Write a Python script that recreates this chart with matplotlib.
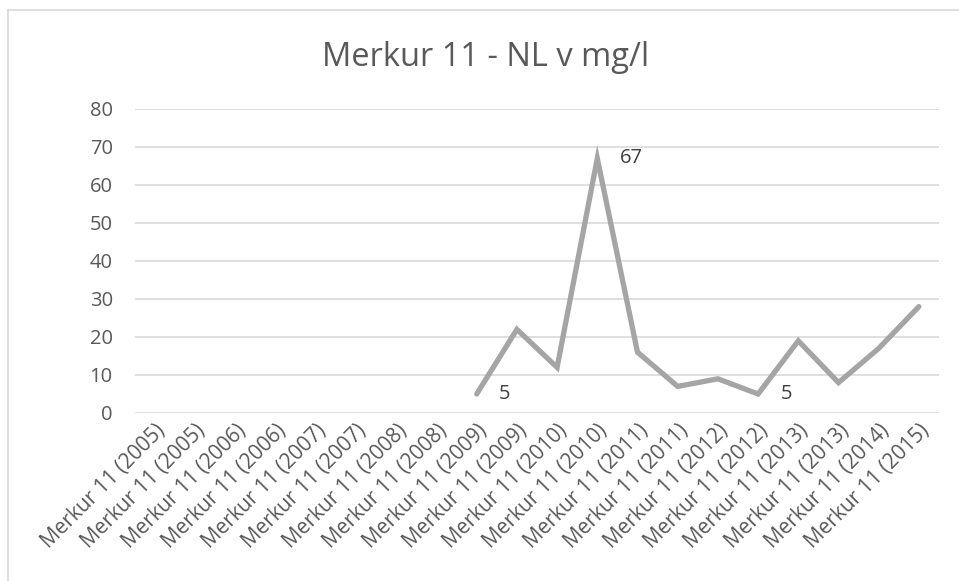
import matplotlib
matplotlib.use("Agg")
import matplotlib.pyplot as plt
from matplotlib.lines import Line2D
import numpy as np

categories = [
    "Merkur 11 (2005)", "Merkur 11 (2005)", "Merkur 11 (2006)", "Merkur 11 (2006)",
    "Merkur 11 (2007)", "Merkur 11 (2007)", "Merkur 11 (2008)", "Merkur 11 (2008)",
    "Merkur 11 (2009)", "Merkur 11 (2009)", "Merkur 11 (2010)", "Merkur 11 (2010)",
    "Merkur 11 (2011)", "Merkur 11 (2011)", "Merkur 11 (2012)", "Merkur 11 (2012)",
    "Merkur 11 (2013)", "Merkur 11 (2013)", "Merkur 11 (2014)", "Merkur 11 (2015)",
]
values = [None, None, None, None, None, None, None, None,
          5, 22, 12, 67, 16, 7, 9, 5, 19, 8, 17, 28]
labeled_idx = [8, 11, 15]
yticks = [0, 10, 20, 30, 40, 50, 60, 70, 80]
title = "Merkur 11 - NL v mg/l"

plt.rcParams['font.family'] = ['Open Sans', 'DejaVu Sans']

W, H = 959, 581
fig = plt.figure(figsize=(W / 100, H / 100), dpi=100)
fig.patch.set_facecolor("white")

left, right, top, bottom = 135, 939, 109, 413
ax = fig.add_axes([left / W, 1 - bottom / H, (right - left) / W, (bottom - top) / H])

x = np.arange(len(categories))
y = np.array([np.nan if v is None else v for v in values], dtype=float)
ax.plot(x, y, color="#A5A5A5", lw=3.8, solid_joinstyle="miter", solid_capstyle="round", zorder=3)

for i in labeled_idx:
    ax.annotate(str(values[i]), (x[i], y[i]), xytext=(16, 0), textcoords="offset points",
                ha="left", va="center", fontsize=14.5, color="#404040")

ax.set_xlim(-0.5, len(categories) - 0.5)
ax.set_ylim(0, 80)
ax.set_yticks(yticks)
ax.set_yticklabels([str(t) for t in yticks], fontsize=14.5, color="#595959")
ax.tick_params(axis="y", length=0, pad=16)
ax.yaxis.grid(True, color="#D9D9D9", lw=1.2)
ax.set_axisbelow(True)
ax.set_xticks(x)
ax.set_xticklabels(categories, rotation=45, ha="right", va="top", rotation_mode="anchor",
                   fontsize=15, color="#595959")
ax.tick_params(axis="x", length=0, pad=5)
for s in ax.spines.values():
    s.set_visible(False)

fig.text(486 / W, 1 - 57 / H, title, ha="center", va="center", fontsize=23.5, color="#595959")

# chart border (light gray)
bx, by = 8 / W, 1 - 10 / H
fig.add_artist(Line2D([bx, 1.01], [by, by], transform=fig.transFigure, color="#D9D9D9", lw=1.2))
fig.add_artist(Line2D([bx, bx], [by, -0.01], transform=fig.transFigure, color="#D9D9D9", lw=1.2))

fig.savefig("out.png", dpi=100, facecolor="white")
